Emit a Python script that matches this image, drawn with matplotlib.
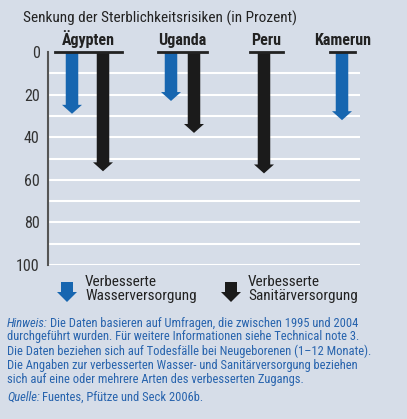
import numpy as np
import matplotlib.pyplot as plt
from matplotlib.patches import FancyArrow

# data (percent reduction of mortality risk)
countries = ['Ägypten', 'Uganda', 'Peru', 'Kamerun']
water = [29, 23, None, 32]        # improved water supply
sanitation = [56, 38, 57, None]   # improved sanitation
yticks = [0, 20, 40, 60, 80, 100]

title = 'Senkung der Sterblichkeitsrisiken (in Prozent)'
legend_labels = ['Verbesserte\nWasserversorgung', 'Verbesserte\nSanitärversorgung']
note_first = 'Die Daten basieren auf Umfragen, die zwischen 1995 und 2004'
note_rest = ('durchgeführt wurden. Für weitere Informationen siehe Technical note 3.\n'
             'Die Daten beziehen sich auf Todesfälle bei Neugeborenen (1–12 Monate).\n'
             'Die Angaben zur verbesserten Wasser- und Sanitärversorgung beziehen\n'
             'sich auf eine oder mehrere Arten des verbesserten Zugangs.')
source = 'Fuentes, Pfütze und Seck 2006b.'

# layout (pixel-like x units inside the axes)
group_span = [(7, 74), (110, 159), (202, 235), (282, 307)]
arrow_x = [(24, 55), (123, 146), (None, 216), (294, None)]

bg = '#d6dde8'
blue = '#1766b0'
black = '#1b1b1b'
textblue = '#2763ad'
plt.rcParams['font.family'] = ['Roboto Condensed', 'Roboto', 'DejaVu Sans']

W, H = 407, 419
fig = plt.figure(figsize=(W / 100, H / 100), dpi=100)
fig.patch.set_facecolor(bg)

ax = fig.add_axes([48 / W, 1 - 265 / H, 312 / W, 213 / H])
ax.set_facecolor(bg)
ax.set_xlim(0, 312)
ax.set_ylim(100, 0)
for s in ax.spines.values():
    s.set_visible(False)
ax.set_xticks([])
ax.set_yticks(yticks)
ax.set_yticklabels([str(t) for t in yticks], fontsize=11.5, color='#333333')
ax.tick_params(axis='y', length=0, pad=6)

# grid lines
for g in range(10, 101, 10):
    ax.axhline(g, color='white', lw=1.5, zorder=1)
ax.plot([0, 0], [0, 100], color='#555555', lw=1.5, clip_on=False, zorder=3)

def down_arrow(x, v, color):
    a = FancyArrow(x, 0, 0, v, width=12.5, head_width=20, head_length=4.2,
                   length_includes_head=True, color=color, lw=0, zorder=4)
    ax.add_patch(a)

for i, c in enumerate(countries):
    x0, x1 = group_span[i]
    ax.plot([x0, x1], [0, 0], color='#222222', lw=2, clip_on=False, zorder=5)
    ax.text((x0 + x1) / 2, -2.0, c, ha='center', va='bottom', fontsize=11.5,
            fontweight='bold', color='#222222')
    xw, xs = arrow_x[i]
    if water[i] is not None:
        down_arrow(xw, water[i], blue)
    if sanitation[i] is not None:
        down_arrow(xs, sanitation[i], black)

fig.text(23 / W, 1 - 18 / H, title, fontsize=11, color='#222222', va='center')

# legend
lax = fig.add_axes([0, 0, 1, 1], facecolor='none')
lax.set_xlim(0, W)
lax.set_ylim(H, 0)
lax.axis('off')
for xa, col, lab, xt in [(67, blue, legend_labels[0], 85), (231, black, legend_labels[1], 248)]:
    lax.add_patch(FancyArrow(xa, 282, 0, 20, width=12, head_width=20, head_length=10,
                             length_includes_head=True, color=col, lw=0))
    lax.text(xt, 289, lab, fontsize=11, color='#222222', va='center', linespacing=0.95)

# note and source, italic labels followed by upright text
fig.canvas.draw()
r = fig.canvas.get_renderer()
h = lax.text(7, 323, 'Hinweis:', fontsize=9, color=textblue, style='italic', va='center')
hw = h.get_window_extent(r).width
lax.text(7 + hw + 2, 323, note_first, fontsize=9, color=textblue, va='center')
lax.text(7, 330, note_rest, fontsize=9, color=textblue, va='top', linespacing=1.12)
q = lax.text(7, 397, 'Quelle:', fontsize=9, color=textblue, style='italic', va='center')
qw = q.get_window_extent(r).width
lax.text(7 + qw + 2, 397, source, fontsize=9, color=textblue, va='center')

fig.savefig('out.png', dpi=100, facecolor=bg)
